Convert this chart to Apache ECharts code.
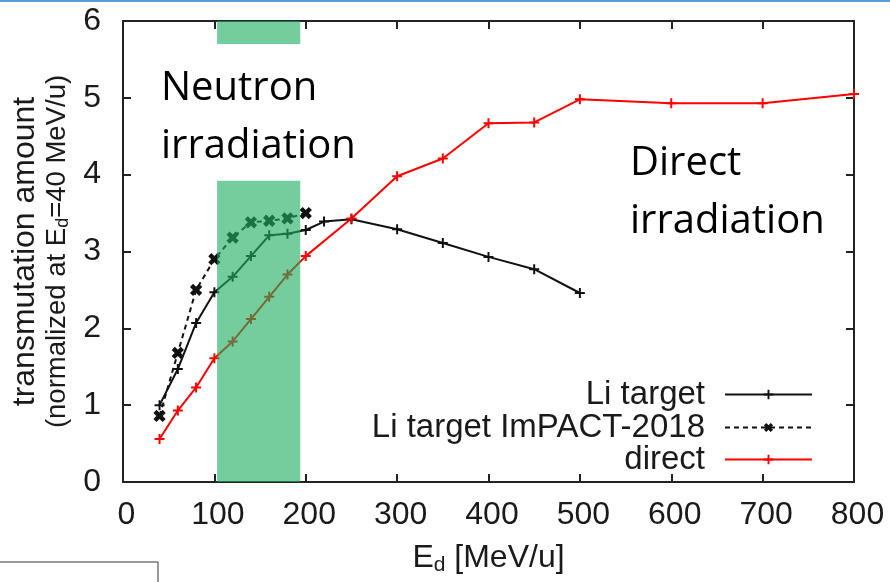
<!DOCTYPE html>
<html><head><meta charset="utf-8">
<script src="https://cdn.jsdelivr.net/npm/echarts@6/dist/echarts.min.js"></script>
<style>html,body{margin:0;padding:0;background:#fff}#c{width:890px;height:582px}</style>
</head><body><div id="c"></div>
<script>
// ---- data ----
const liTargetE = [40,60,80,100,120,140,160,180,200,220,250,300,350,400,450,500];
const liTarget  = [1.00,1.47,2.07,2.47,2.67,2.94,3.21,3.23,3.28,3.39,3.42,3.29,3.11,2.93,2.77,2.46];
const impactE   = [40,60,80,100,120,140,160,180,200];
const impact    = [0.86,1.68,2.50,2.90,3.18,3.38,3.40,3.43,3.50];
const directE   = [40,60,80,100,120,140,160,180,200,250,300,350,400,450,500,600,700,800];
const direct    = [0.56,0.93,1.23,1.61,1.83,2.12,2.41,2.70,2.94,3.43,3.98,4.21,4.67,4.68,4.98,4.93,4.93,5.05];
const bandE     = [103,194];               // neutron irradiation band (MeV/u)
const bandY     = [[0,3.92],[5.70,6]];     // visible parts of the band
const xTicks    = [0,800,100];
const yTicks    = [0,6,1];
const seriesNames = ['Li target','Li target ImPACT-2018','direct'];

const FONT = '"Liberation Sans", Arial, Helvetica, sans-serif';
const plus = 'path://M4,0h2v4h4v2h-4v4h-2v-4h-4v-2h4z';
const cross = 'path://M3.3,0h3.4v3.3h3.3v3.4h-3.3v3.3h-3.4v-3.3h-3.3v-3.4h3.3z';
const pair = (xs, ys) => xs.map((x,i)=>[x, ys[i]]);

const chart = echarts.init(document.getElementById('c'));
const axisLine = {show:true, onZero:false, lineStyle:{color:'#222', width:2}};
const axisTick = {show:true, inside:true, length:8, lineStyle:{color:'#222', width:2}};

function legendFor(name, top){
  return {
    data:[name], right:77, top:top, orient:'vertical', align:'right', padding:0,
    itemWidth:87, itemHeight:12, selectedMode:false,
    textStyle:{fontSize:33, fontFamily:FONT, color:'#1a1a1a', padding:[0,15,0,0]}
  };
}

chart.setOption({
  animation:false,
  backgroundColor:'#fff',
  grid:{left:123, right:36, top:21, bottom:100, outerBoundsMode:'none', containLabel:false},
  legend:[legendFor(seriesNames[0],378), legendFor(seriesNames[1],411), legendFor(seriesNames[2],443)],
  xAxis:[{
    type:'value', min:xTicks[0], max:xTicks[1], interval:xTicks[2], position:'bottom',
    axisLine, axisTick, splitLine:{show:false},
    axisLabel:{fontSize:32, fontFamily:FONT, color:'#1a1a1a', margin:17, padding:[0,0,0,7]},
    name:'{a|E}{s|d}{a| [MeV/u]}', nameLocation:'middle', nameGap:58,
    nameTextStyle:{rich:{
      a:{fontSize:32, fontFamily:FONT, color:'#1a1a1a'},
      s:{fontSize:21, fontFamily:FONT, color:'#1a1a1a', verticalAlign:'bottom', padding:[15,0,0,0]}
    }}
  },{
    type:'value', min:xTicks[0], max:xTicks[1], interval:xTicks[2], position:'top',
    axisLine, axisTick, axisLabel:{show:false}, splitLine:{show:false}
  }],
  yAxis:[{
    type:'value', min:yTicks[0], max:yTicks[1], interval:yTicks[2], position:'left',
    axisLine, axisTick, splitLine:{show:false},
    axisLabel:{fontSize:32, fontFamily:FONT, color:'#1a1a1a', margin:22},
    name:'{a|transmutation amount}\n{b|(normalized at E}{s|d}{b|=40 MeV/u)}',
    nameLocation:'middle', nameRotate:90, nameGap:48,
    nameTextStyle:{align:'center', rich:{
      a:{fontSize:32, fontFamily:FONT, color:'#1a1a1a', lineHeight:34},
      b:{fontSize:27.5, fontFamily:FONT, color:'#1a1a1a', lineHeight:30},
      s:{fontSize:18, fontFamily:FONT, color:'#1a1a1a', lineHeight:30, verticalAlign:'bottom', padding:[12,0,0,0]}
    }}
  },{
    type:'value', min:yTicks[0], max:yTicks[1], interval:yTicks[2], position:'right',
    axisLine, axisTick, axisLabel:{show:false}, splitLine:{show:false}
  }],
  graphic:[
    {type:'rect', shape:{x:0, y:0, width:890, height:2}, style:{fill:'#5b9bd5'}, z:100},
    {type:'rect', shape:{x:-2, y:562, width:160, height:30}, style:{fill:'none', stroke:'#333', lineWidth:1}, z:100},
    {type:'text', left:161, top:60, z:100, style:{text:'Neutron\nirradiation', font:'40px "Open Sans", Lato, sans-serif', fill:'#000', lineHeight:58}},
    {type:'text', left:630, top:135, z:100, style:{text:'Direct\nirradiation', font:'40px "Open Sans", Lato, sans-serif', fill:'#000', lineHeight:58}}
  ],
  series:[
    {name:seriesNames[0], type:'line', data:pair(liTargetE, liTarget),
     symbol:plus, symbolSize:10, showAllSymbol:true,
     lineStyle:{color:'#111', width:2}, itemStyle:{color:'#111'}, z:3},
    {name:seriesNames[1], type:'line', data:pair(impactE, impact),
     symbol:cross, symbolSize:13, symbolRotate:45, showAllSymbol:true,
     lineStyle:{color:'#111', width:2, type:[5,4]}, itemStyle:{color:'#111'}, z:3},
    {name:seriesNames[2], type:'line', data:pair(directE, direct),
     symbol:plus, symbolSize:10, showAllSymbol:true,
     lineStyle:{color:'#ff0000', width:2}, itemStyle:{color:'#ff0000'}, z:3},
    {type:'custom', z:10, silent:true,
     data:bandY.map(r=>[bandE[0], bandE[1], r[0], r[1]]),
     encode:{x:[0,1], y:[2,3]},
     renderItem:function(params, api){
       const p0 = api.coord([api.value(0), api.value(3)]);
       const p1 = api.coord([api.value(1), api.value(2)]);
       return {type:'rect', shape:{x:p0[0], y:p0[1], width:p1[0]-p0[0], height:p1[1]-p0[1]},
               style:{fill:'rgba(30,175,95,0.62)'}};
     }}
  ]
});
</script></body></html>
